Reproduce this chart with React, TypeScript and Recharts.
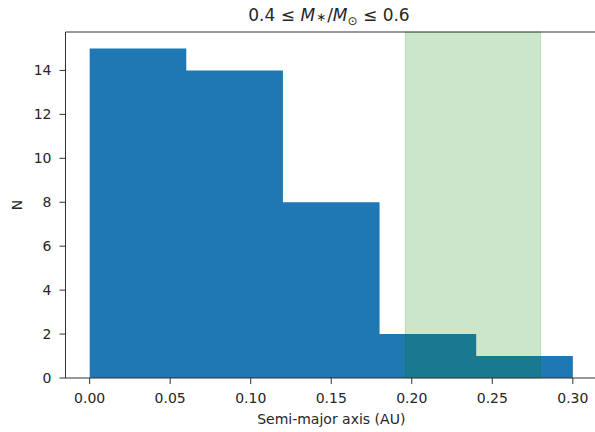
import React from 'react'
import { ComposedChart, Area, XAxis, YAxis, ReferenceArea, ReferenceLine } from 'recharts'

// histogram bin edges and counts
const binEdges = [0, 0.06, 0.12, 0.18, 0.24, 0.3]
const binCounts = [15, 14, 8, 2, 1]

// shaded band on the x axis
const spanStart = 0.196
const spanEnd = 0.28

const xTicks = [0, 0.05, 0.1, 0.15, 0.2, 0.25, 0.3]
const yTicks = [0, 2, 4, 6, 8, 10, 12, 14]

const xDomain = [-0.015, 0.315]
const yDomain = [0, 15.75]

const histRows = binEdges.map((edge, i) => ({
  x: edge,
  n: i < binCounts.length ? binCounts[i] : binCounts[binCounts.length - 1],
}))

const FONT = '"DejaVu Sans", sans-serif'
const TEXT = '#262626'

export default function App() {
  return (
    <div style={{ position: 'fixed', left: 0, top: 0, width: 595, height: 432, overflow: 'hidden', background: '#fff' }}>
      <div
        style={{
          position: 'absolute',
          left: 329,
          top: 5,
          transform: 'translateX(-50%)',
          fontFamily: FONT,
          fontSize: 17,
          color: TEXT,
          whiteSpace: 'nowrap',
        }}
      >
        0.4 ≤ <i>M</i>
        <span style={{ fontSize: 12, margin: '0 1px' }}>∗</span>/<i>M</i>
        <sub style={{ fontSize: 12 }}>⊙</sub> ≤ 0.6
      </div>
      <ComposedChart
        width={620}
        height={432}
        data={histRows}
        margin={{ top: 32, right: 23, bottom: 0, left: 0 }}
        style={{ fontFamily: FONT }}
      >
        <XAxis
          dataKey="x"
          type="number"
          domain={xDomain}
          ticks={xTicks}
          allowDataOverflow
          height={54}
          tickSize={6}
          tickMargin={9}
          tickFormatter={(v: number) => v.toFixed(2)}
          tick={{ fill: TEXT, fontSize: 14 }}
          stroke="#333"
          label={{ value: 'Semi-major axis (AU)', position: 'insideBottom', offset: 8, fill: TEXT, fontSize: 14 }}
        />
        <YAxis
          type="number"
          domain={yDomain}
          ticks={yTicks}
          allowDataOverflow
          width={65.5}
          tickSize={6}
          tickMargin={8}
          tick={{ fill: TEXT, fontSize: 14 }}
          stroke="#333"
          label={{
            content: (p: any) => {
              const vb = p.viewBox
              const cy = vb.y + vb.height / 2
              return (
                <text x={17} y={cy} transform={`rotate(-90 17 ${cy})`} textAnchor="middle" dominantBaseline="central" fill={TEXT} fontSize={14}>
                  N
                </text>
              )
            },
          }}
        />
        <Area
          type="stepAfter"
          dataKey="n"
          stroke="none"
          fill="#1f77b4"
          fillOpacity={1}
          isAnimationActive={false}
          dot={false}
          activeDot={false}
        />
        <ReferenceArea
          x1={spanStart}
          x2={spanEnd}
          y1={yDomain[0]}
          y2={yDomain[1]}
          fill="green"
          fillOpacity={0.2}
          stroke="green"
          strokeOpacity={0.2}
          ifOverflow="visible"
        />
        <ReferenceLine y={yDomain[1]} stroke="#333" ifOverflow="visible" />
        <ReferenceLine x={xDomain[1]} stroke="#333" ifOverflow="visible" />
      </ComposedChart>
    </div>
  )
}
